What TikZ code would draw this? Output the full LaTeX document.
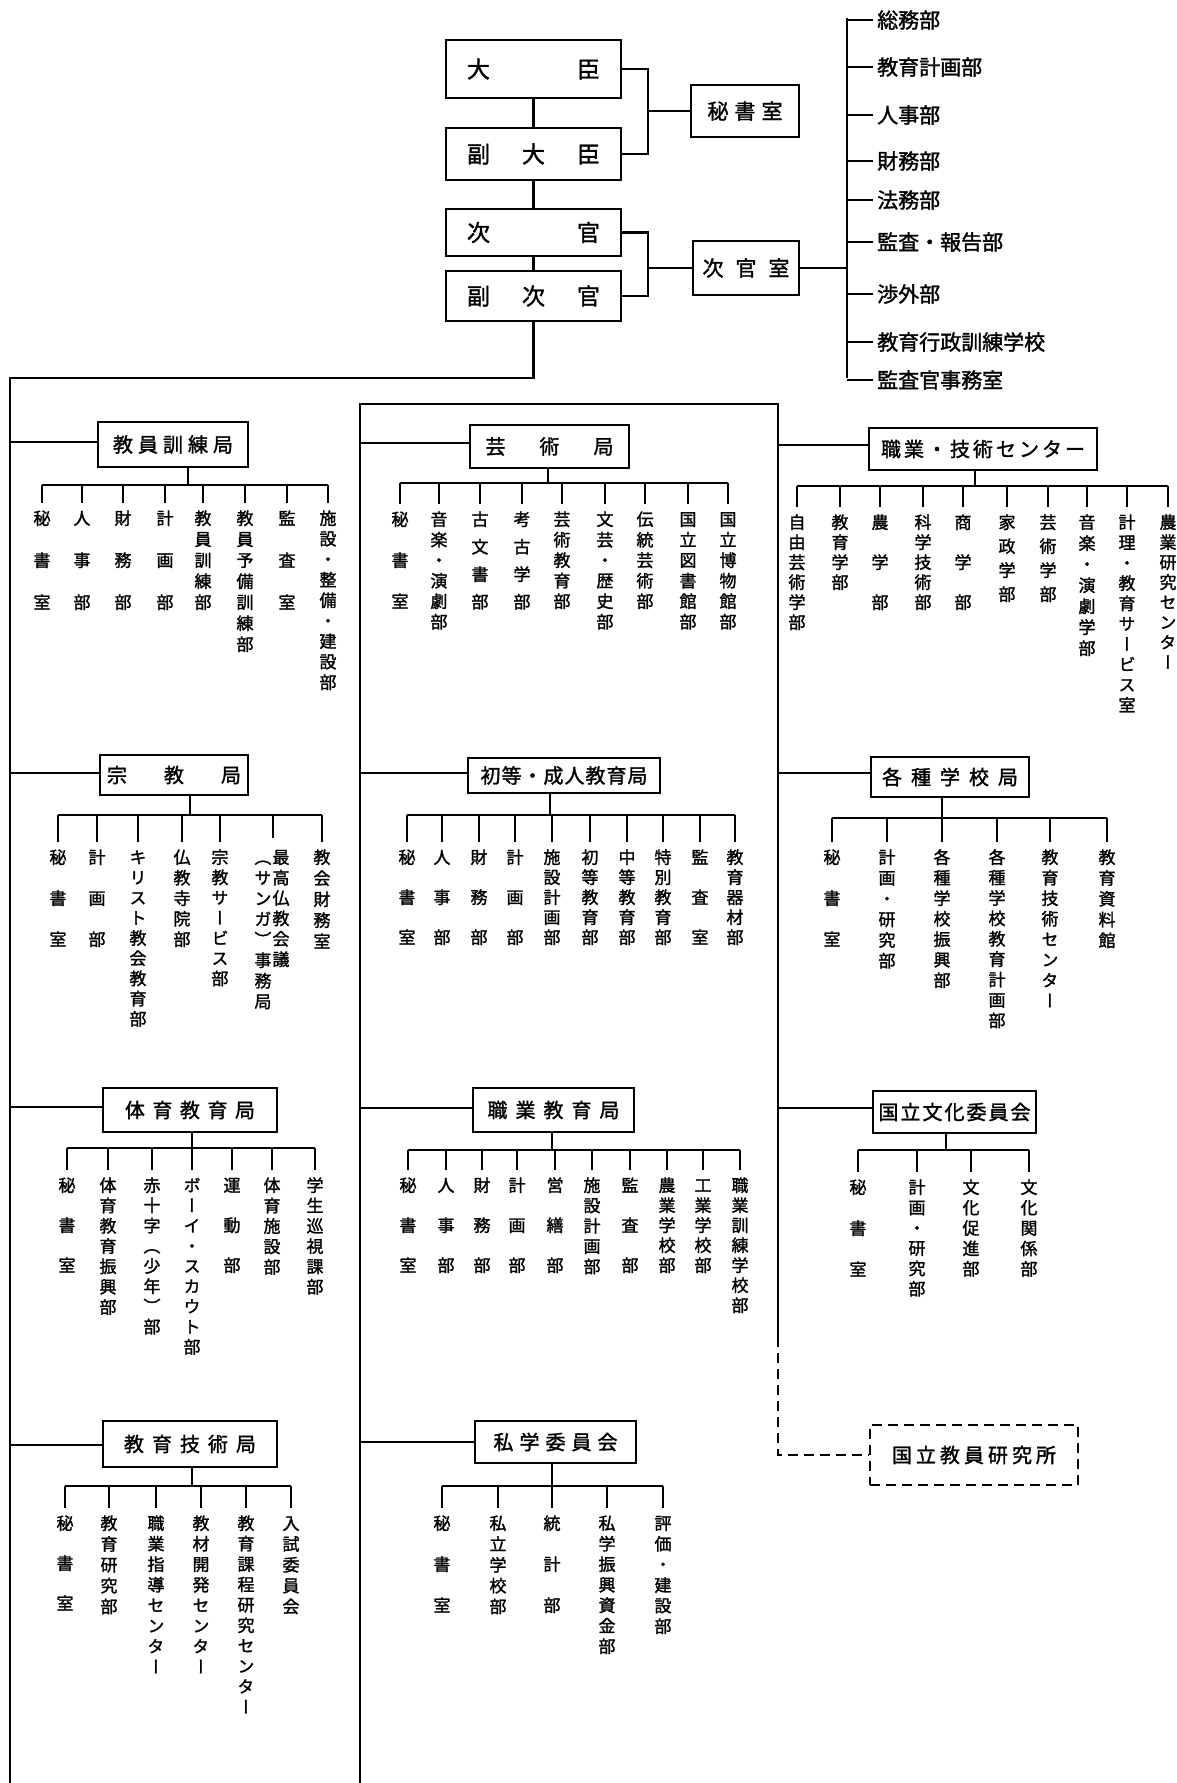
\documentclass[tikz,border=0pt]{standalone}
\usepackage{fontspec}
\newfontfamily\jp{Noto Sans CJK JP}[FakeBold=1.5]
\newfontfamily\jpv{Noto Sans CJK JP}[RawFeature=+vert,FakeBold=1.5]
\makeatletter
\newcommand\lsp[2]{\def\lsp@k{#1}\lsp@a#2\relax}
\def\lsp@a#1{#1\futurelet\lsp@n\lsp@b}
\def\lsp@b{\ifx\lsp@n\relax\expandafter\@gobble\else\kern\lsp@k\relax\expandafter\lsp@a\fi}
\newcommand\vst[2]{\vbox{\baselineskip=#1\lineskip=0pt\lineskiplimit=-\maxdimen\vst@a#2\relax}}
\def\vst@a#1{\hbox to 1em{\hss\rule[-0.12em]{0pt}{1em}#1\hss}\futurelet\vst@n\vst@b}
\def\vst@b{\ifx\vst@n\relax\expandafter\@gobble\else\expandafter\vst@a\fi}
\makeatother
\tikzset{
  ln/.style={line width=2.2pt},
  box/.style={draw, line width=2.2pt, inner sep=0pt, font=\jp\fontsize{20}{20}\selectfont},
  topbox/.style={box, font=\jp\fontsize{23}{23}\selectfont},
  sbox/.style={box, font=\jp\fontsize{21}{21}\selectfont},
  dbox/.style={box, dash pattern=on 10pt off 6pt},
  dashln/.style={ln, dash pattern=on 10pt off 6pt},
  lab/.style={anchor=north, inner sep=0pt, font=\jpv\fontsize{17}{17}\selectfont},
  item/.style={anchor=west, inner sep=0pt, font=\jp\fontsize{21}{21}\selectfont},
}
\newcommand\bx[7][box]{\node[#1, minimum width={(#5-#3)*1pt}, minimum height={(#6-#4)*1pt}] (#2) at ({(#3+#5)/2},{(#4+#6)/2}) {#7};}
\newcommand\kid[6]{\coordinate (#1-b) at (#2,#3);
  \node[lab] (#1) at (#2,{#4-8.5}) {\vst{#5pt}{#6}};
  \draw[ln] (#1-b) -- ([yshift=7pt]#1.north);}
\begin{document}
\begin{tikzpicture}[x=1pt,y=-1pt]
\useasboundingbox (0,0) rectangle (1176,1783);
\fill[white] (0,0) rectangle (1176,1783);

% ---------- top ----------
\bx[topbox]{M1}{446}{40}{621}{98}{大\hspace{87pt}臣}
\bx[topbox]{M2}{446}{128}{621}{180}{\lsp{32pt}{副大臣}}
\bx[topbox]{M3}{446}{209}{621}{256}{次\hspace{87pt}官}
\bx[topbox]{M4}{446}{271}{621}{321}{\lsp{32pt}{副次官}}
\bx[sbox]{S1}{691}{85}{799}{137}{\lsp{6pt}{秘書室}}
\bx[sbox]{S2}{693}{241}{799}{295}{\lsp{12pt}{次官室}}
\draw[ln] (M1.south) -- (M2.north);
\draw[ln] (M2.south) -- (M3.north);
\draw[ln] (M3.south) -- (M4.north);
\coordinate (br1) at (648,111);
\coordinate (br2) at (648,268);
\draw[ln] (M1.east) -- (M1.east -| br1) -- (M2.east -| br1) -- (M2.east);
\draw[ln] (br1) -- (S1.west);
\draw[ln] (M3.east) -- (M3.east -| br2) -- (M4.east -| br2) -- (M4.east);
\draw[ln] (br2) -- (S2.west);
\coordinate (Ltop) at (847,18);
\coordinate (Lbot) at (847,378);
\draw[ln] (S2.east) -- (S2.east -| Ltop);
\draw[ln] (Ltop) -- (Lbot);
\foreach \n/\y/\t in {L1/18/総務部, L2/65/教育計画部, L3/113/人事部, L4/159/財務部, L5/198/法務部, L6/240/監査・報告部, L7/292/渉外部, L8/340/教育行政訓練学校, L9/378/監査官事務室}{
  \node[item] (\n) at (877,\y+2) {\lsp{4pt}{\t}};
  \draw[ln] (Ltop |- \n.west) -- ([xshift=-4pt]\n.west);
}

% ---------- trunks ----------
\coordinate (T2) at (10,378);
\coordinate (T3) at (10,1783);
\draw[ln] (M4.south) |- (T2) -- (T3);
\coordinate (c2top) at (360,404);
\coordinate (c2bot) at (360,1783);
\coordinate (c3top) at (778,404);
\coordinate (c3sol) at (778,1337);
\draw[ln] (c2bot) -- (c2top) -- (c3top) -- (c3sol);

% ---------- B1 ----------
\bx{B1}{98}{422}{248}{467}{\lsp{5pt}{教員訓練局}}
\coordinate (B1c) at (10,442); \draw[ln] (B1c) -- (B1c -| B1.west);
\coordinate (B1s) at (188,485); \draw[ln] (B1s |- B1.south) -- (B1s);
\kid{B1k1}{42}{485}{518}{42}{秘書室}
\kid{B1k2}{82}{485}{518}{42}{人事部}
\kid{B1k3}{123}{485}{518}{42}{財務部}
\kid{B1k4}{165}{485}{518}{42}{計画部}
\kid{B1k5}{203}{485}{518}{21}{教員訓練部}
\kid{B1k6}{245}{485}{518}{21}{教員予備訓練部}
\kid{B1k7}{287}{485}{518}{42}{監査室}
\kid{B1k8}{328}{485}{518}{20.5}{施設・整備・建設部}
\draw[ln] (B1k1-b) -- (B1k8-b);

% ---------- B2 ----------
\bx{B2}{100}{755}{248}{795}{\lsp{37pt}{宗教局}}
\coordinate (B2c) at (10,773); \draw[ln] (B2c) -- (B2c -| B2.west);
\coordinate (B2s) at (190,815); \draw[ln] (B2s |- B2.south) -- (B2s);
\kid{B2k1}{58}{815}{857}{41}{秘書室}
\kid{B2k2}{97}{815}{857}{41}{計画部}
\kid{B2k3}{138}{815}{857}{20.2}{キリスト教会教育部}
\kid{B2k4}{182}{815}{857}{20.5}{仏教寺院部}
\kid{B2k5}{220}{815}{857}{20.2}{宗教サービス部}
\node[lab] (B2k6a) at (281,{857-8.5}) {\vst{20.4pt}{最高仏教会議}};
\node[lab] (B2k6b) at (263,{857-8.5}) {\vst{20.6pt}{（サンガ）事務局}};
\coordinate (B2k6-b) at (273,815); \coordinate (B2k6-e) at (273,838);
\draw[ln] (B2k6-b) -- (B2k6-e);
\kid{B2k7}{322}{815}{857}{21}{教会財務室}
\draw[ln] (B2k1-b) -- (B2k7-b);

% ---------- B3 ----------
\bx{B3}{103}{1088}{277}{1132}{\lsp{7.5pt}{体育教育局}}
\coordinate (B3c) at (10,1107); \draw[ln] (B3c) -- (B3c -| B3.west);
\coordinate (B3s) at (192,1148); \draw[ln] (B3s |- B3.south) -- (B3s);
\kid{B3k1}{67}{1148}{1185}{40}{秘書室}
\kid{B3k2}{108}{1148}{1185}{20.3}{体育教育振興部}
\kid{B3k3}{152}{1148}{1185}{20.2}{赤十字（少年）部}
\kid{B3k4}{192}{1148}{1185}{20.2}{ボーイ・スカウト部}
\kid{B3k5}{232}{1148}{1185}{40}{運動部}
\kid{B3k6}{272}{1148}{1185}{20.4}{体育施設部}
\kid{B3k7}{315}{1148}{1185}{20.3}{学生巡視課部}
\draw[ln] (B3k1-b) -- (B3k7-b);

% ---------- B4 ----------
\bx{B4}{103}{1421}{277}{1467}{\lsp{8pt}{教育技術局}}
\coordinate (B4c) at (10,1445); \draw[ln] (B4c) -- (B4c -| B4.west);
\coordinate (B4s) at (192,1486); \draw[ln] (B4s |- B4.south) -- (B4s);
\kid{B4k1}{65}{1486}{1523}{40}{秘書室}
\kid{B4k2}{109}{1486}{1523}{20.8}{教育研究部}
\kid{B4k3}{156}{1486}{1523}{20.5}{職業指導センター}
\kid{B4k4}{201}{1486}{1523}{20.5}{教材開発センター}
\kid{B4k5}{246}{1486}{1523}{20.4}{教育課程研究センター}
\kid{B4k6}{291}{1486}{1523}{20.8}{入試委員会}
\draw[ln] (B4k1-b) -- (B4k6-b);

% ---------- C1 ----------
\bx{C1}{470}{425}{629}{468}{\lsp{34pt}{芸術局}}
\coordinate (C1c) at (360,443); \draw[ln] (C1c) -- (C1c -| C1.west);
\coordinate (C1s) at (548,483); \draw[ln] (C1s |- C1.south) -- (C1s);
\kid{C1k1}{400}{483}{519}{41}{秘書室}
\kid{C1k2}{439}{483}{519}{20.5}{音楽・演劇部}
\kid{C1k3}{480}{483}{519}{27.5}{古文書部}
\kid{C1k4}{522}{483}{519}{27.5}{考古学部}
\kid{C1k5}{562}{483}{519}{20.5}{芸術教育部}
\kid{C1k6}{605}{483}{519}{20.5}{文芸・歴史部}
\kid{C1k7}{645}{483}{519}{20.5}{伝統芸術部}
\kid{C1k8}{688}{483}{519}{20.5}{国立図書館部}
\kid{C1k9}{728}{483}{519}{20.5}{国立博物館部}
\draw[ln] (C1k1-b) -- (C1k9-b);

% ---------- C2 ----------
\bx{C2}{468}{758}{660}{793}{\lsp{1pt}{初等・成人教育局}}
\coordinate (C2c) at (360,773); \draw[ln] (C2c) -- (C2c -| C2.west);
\coordinate (C2s) at (550,815); \draw[ln] (C2s |- C2.south) -- (C2s);
\kid{C2k1}{407}{815}{857}{40}{秘書室}
\kid{C2k2}{442}{815}{857}{40}{人事部}
\kid{C2k3}{479}{815}{857}{40}{財務部}
\kid{C2k4}{515}{815}{857}{40}{計画部}
\kid{C2k5}{552}{815}{857}{20}{施設計画部}
\kid{C2k6}{590}{815}{857}{20}{初等教育部}
\kid{C2k7}{627}{815}{857}{20}{中等教育部}
\kid{C2k8}{663}{815}{857}{20}{特別教育部}
\kid{C2k9}{700}{815}{857}{40}{監査室}
\kid{C2k10}{735}{815}{857}{20}{教育器材部}
\draw[ln] (C2k1-b) -- (C2k10-b);

% ---------- C3 ----------
\bx{C3}{473}{1088}{634}{1132}{\lsp{8pt}{職業教育局}}
\coordinate (C3c) at (360,1108); \draw[ln] (C3c) -- (C3c -| C3.west);
\coordinate (C3s) at (552,1150); \draw[ln] (C3s |- C3.south) -- (C3s);
\kid{C3k1}{408}{1150}{1185}{40}{秘書室}
\kid{C3k2}{446}{1150}{1185}{40}{人事部}
\kid{C3k3}{482}{1150}{1185}{40}{財務部}
\kid{C3k4}{517}{1150}{1185}{40}{計画部}
\kid{C3k5}{555}{1150}{1185}{40}{営繕部}
\kid{C3k6}{592}{1150}{1185}{20.3}{施設計画部}
\kid{C3k7}{630}{1150}{1185}{40}{監査部}
\kid{C3k8}{667}{1150}{1185}{20}{農業学校部}
\kid{C3k9}{703}{1150}{1185}{20}{工業学校部}
\kid{C3k10}{740}{1150}{1185}{20}{職業訓練学校部}
\draw[ln] (C3k1-b) -- (C3k10-b);

% ---------- C4 ----------
\bx{C4}{475}{1421}{636}{1463}{\lsp{6pt}{私学委員会}}
\coordinate (C4c) at (360,1442); \draw[ln] (C4c) -- (C4c -| C4.west);
\coordinate (C4s) at (552,1486); \draw[ln] (C4s |- C4.south) -- (C4s);
\kid{C4k1}{442}{1486}{1523}{41}{秘書室}
\kid{C4k2}{498}{1486}{1523}{20.8}{私立学校部}
\kid{C4k3}{552}{1486}{1523}{41}{統計部}
\kid{C4k4}{607}{1486}{1523}{20.5}{私学振興資金部}
\kid{C4k5}{663}{1486}{1523}{20.6}{評価・建設部}
\draw[ln] (C4k1-b) -- (C4k5-b);

% ---------- D1 ----------
\bx{D1}{869}{428}{1097}{470}{\lsp{3pt}{職業・技術センター}}
\coordinate (D1c) at (778,445); \draw[ln] (D1c) -- (D1c -| D1.west);
\coordinate (D1s) at (975,486); \draw[ln] (D1s |- D1.south) -- (D1s);
\kid{D1k1}{797}{486}{522}{20}{自由芸術学部}
\kid{D1k2}{840}{486}{522}{20}{教育学部}
\kid{D1k3}{880}{486}{522}{40}{農学部}
\kid{D1k4}{923}{486}{522}{20}{科学技術部}
\kid{D1k5}{963}{486}{522}{40}{商学部}
\kid{D1k6}{1007}{486}{522}{24}{家政学部}
\kid{D1k7}{1048}{486}{522}{24}{芸術学部}
\kid{D1k8}{1087}{486}{522}{21}{音楽・演劇学部}
\kid{D1k9}{1127}{486}{522}{20.3}{計理・教育サービス室}
\kid{D1k10}{1168}{486}{522}{20}{農業研究センター}
\draw[ln] (D1k1-b) -- (D1k10-b);

% ---------- D2 ----------
\bx{D2}{871}{757}{1029}{797}{\lsp{9pt}{各種学校局}}
\coordinate (D2c) at (778,773); \draw[ln] (D2c) -- (D2c -| D2.west);
\coordinate (D2s) at (942,818); \draw[ln] (D2s |- D2.south) -- (D2s);
\kid{D2k1}{832}{818}{857}{41}{秘書室}
\kid{D2k2}{887}{818}{857}{20.7}{計画・研究部}
\kid{D2k3}{942}{818}{857}{20.5}{各種学校振興部}
\kid{D2k4}{997}{818}{857}{20.4}{各種学校教育計画部}
\kid{D2k5}{1050}{818}{857}{20.5}{教育技術センター}
\kid{D2k6}{1107}{818}{857}{20.8}{教育資料館}
\draw[ln] (D2k1-b) -- (D2k6-b);

% ---------- D3 ----------
\bx{D3}{873}{1091}{1036}{1133}{\lsp{2pt}{国立文化委員会}}
\coordinate (D3c) at (778,1108); \draw[ln] (D3c) -- (D3c -| D3.west);
\coordinate (D3s) at (946,1150); \draw[ln] (D3s |- D3.south) -- (D3s);
\kid{D3k1}{858}{1150}{1187}{41}{秘書室}
\kid{D3k2}{917}{1150}{1187}{20.3}{計画・研究部}
\kid{D3k3}{971}{1150}{1187}{20.4}{文化促進部}
\kid{D3k4}{1029}{1150}{1187}{20.4}{文化関係部}
\draw[ln] (D3k1-b) -- (D3k4-b);

% ---------- dashed ----------
\bx[dbox]{D4}{870}{1425}{1078}{1485}{\lsp{4pt}{国立教員研究所}}
\draw[dashln] (c3sol) |- (D4.west);
\end{tikzpicture}
\end{document}
